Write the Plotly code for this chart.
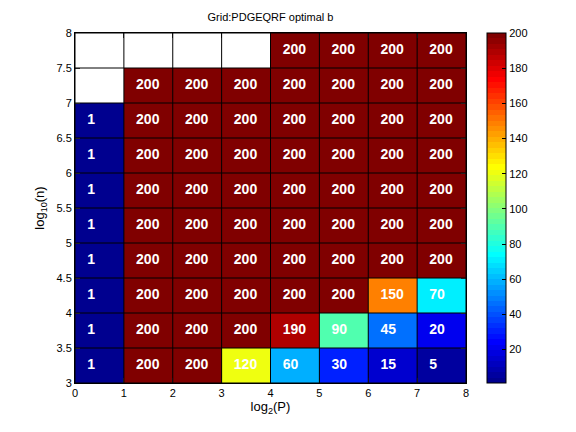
import numpy as np
import plotly.graph_objs as go

# log2(P) columns and log10(n) rows (cell centres)
x_vals = [0.5, 1.5, 2.5, 3.5, 4.5, 5.5, 6.5, 7.5]
y_vals = [3.25, 3.75, 4.25, 4.75, 5.25, 5.75, 6.25, 6.75, 7.25, 7.75]
nan = None
# optimal b, bottom row first
b_rows = [
    [1, 200, 200, 120, 60, 30, 15, 5],
    [1, 200, 200, 200, 190, 90, 45, 20],
    [1, 200, 200, 200, 200, 200, 150, 70],
    [1, 200, 200, 200, 200, 200, 200, 200],
    [1, 200, 200, 200, 200, 200, 200, 200],
    [1, 200, 200, 200, 200, 200, 200, 200],
    [1, 200, 200, 200, 200, 200, 200, 200],
    [1, 200, 200, 200, 200, 200, 200, 200],
    [nan, 200, 200, 200, 200, 200, 200, 200],
    [nan, nan, nan, nan, 200, 200, 200, 200],
]
x_ticks = [0, 1, 2, 3, 4, 5, 6, 7, 8]
y_ticks = [3, 3.5, 4, 4.5, 5, 5.5, 6, 6.5, 7, 7.5, 8]
cb_ticks = [20, 40, 60, 80, 100, 120, 140, 160, 180, 200]


def jet(m=64):
    # matlab jet colormap
    n = int(np.ceil(m / 4))
    u = np.concatenate([np.arange(1, n + 1) / n, np.ones(n - 1), np.arange(n, 0, -1) / n])
    g = int(np.ceil(n / 2)) - (1 if m % 4 == 1 else 0) + np.arange(1, len(u) + 1)
    r = g + n
    b = g - n
    cmap = np.zeros((m, 3))
    for idx, col in ((r, 0), (g, 1), (b, 2)):
        ok = (idx >= 1) & (idx <= m)
        cmap[idx[ok] - 1, col] = u[ok]
    return cmap


cmap = jet(64)
scale = []
for k, c in enumerate(cmap):
    rgb = 'rgb(%d,%d,%d)' % tuple(np.round(c * 255))
    scale.append([k / 64, rgb])
    scale.append([(k + 1) / 64, rgb])

z = np.array([[np.nan if v is None else v for v in row] for row in b_rows], dtype=float)

fig = go.Figure()
fig.add_trace(go.Heatmap(
    x=x_vals, y=y_vals, z=z, zmin=1, zmax=200,
    colorscale=scale, hoverinfo='skip',
    colorbar=dict(x=1.054, xanchor='left', y=0.5, yanchor='middle', len=1.0,
                  xpad=0, ypad=0, thickness=19, outlinecolor='black', outlinewidth=1,
                  tickvals=cb_ticks, ticks='inside', ticklen=4, tickcolor='black',
                  tickfont=dict(size=11, color='black'))
))

tx, ty, tt = [], [], []
for i, row in enumerate(b_rows):
    for j, v in enumerate(row):
        if v is not None:
            tx.append(x_vals[j] - 0.25)
            ty.append(y_vals[i])
            tt.append(str(v))
fig.add_trace(go.Scatter(
    x=tx, y=ty, text=tt, mode='text', textposition='middle right',
    textfont=dict(color='white', size=14, weight='bold'),
    hoverinfo='skip', showlegend=False
))

# cell edge lines (pcolor style)
shapes = []
for xv in x_ticks:
    shapes.append(dict(type='line', xref='x', yref='paper', x0=xv, x1=xv, y0=0, y1=1,
                       line=dict(color='black', width=1), layer='above'))
for yv in y_ticks:
    shapes.append(dict(type='line', xref='paper', yref='y', x0=0, x1=1, y0=yv, y1=yv,
                       line=dict(color='black', width=1), layer='above'))

fig.update_layout(
    width=576, height=432,
    margin=dict(l=75, r=110, t=33, b=49),
    paper_bgcolor='white', plot_bgcolor='white',
    font=dict(family='Liberation Sans, Arial', size=11, color='black'),
    title=dict(text='Grid:PDGEQRF optimal b', x=(75 + 466) / 2 / 576, xanchor='center',
               y=1 - 17 / 432, yanchor='middle', font=dict(size=11)),
    showlegend=False,
    shapes=shapes,
)
fig.update_xaxes(range=[0, 8], tickvals=x_ticks, ticks='inside', ticklen=5,
                 showline=True, linecolor='black', linewidth=1, mirror='ticks',
                 showgrid=False, zeroline=False,
                 title=dict(text='log<sub>2</sub>(P)', standoff=2))
fig.update_yaxes(range=[3, 8], tickvals=y_ticks, ticks='inside', ticklen=5,
                 showline=True, linecolor='black', linewidth=1, mirror='ticks',
                 showgrid=False, zeroline=False,
                 title=dict(text='log<sub>10</sub>(n)', standoff=8))

fig.write_html("out.html", config={'displayModeBar': False},
               post_script="document.body.style.margin='0px';")
